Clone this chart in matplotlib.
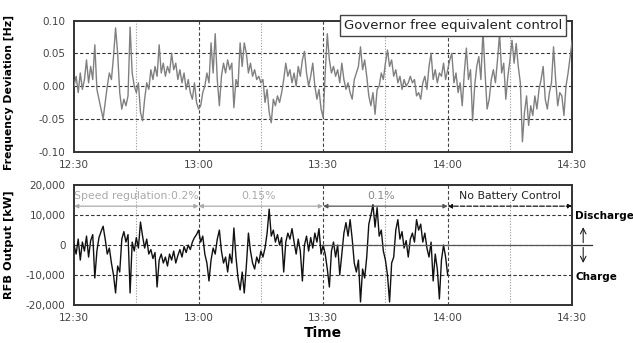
import numpy as np
import matplotlib
matplotlib.use("Agg")
import matplotlib.pyplot as plt

# frequency deviation [Hz], one value every 30 s, per half hour
freq_1230 = [0.00, 0.015, -0.01, 0.02, -0.005, 0.01, 0.04, 0.005, 0.03, 0.01,
             0.063, -0.005, -0.02, -0.035, -0.05, -0.025, 0.00, 0.02, 0.01, 0.045,
             0.089, 0.05, -0.01, -0.035, -0.02, -0.03, -0.015, 0.09, 0.02, 0.00,
             -0.01, 0.005, -0.04, -0.053, -0.02, 0.005, -0.005, 0.025, 0.01, 0.03,
             0.015, 0.063, 0.02, 0.035, 0.015, 0.03, 0.02, 0.05, 0.025, 0.035,
             0.01, 0.025, 0.005, 0.02, -0.005, 0.01, -0.01, -0.02, 0.005, -0.025,
             -0.035]
freq_1300 = [-0.03, -0.01, 0.0, 0.02, 0.005, 0.066, 0.02, 0.08, 0.01, -0.03,
             0.015, 0.035, 0.02, 0.04, 0.025, 0.035, -0.033, 0.01, 0.0, 0.066,
             0.03, 0.066, 0.05, 0.02, 0.035, 0.015, 0.025, 0.01, 0.015, 0.005,
             0.01, -0.025, -0.005, -0.04, -0.056, -0.02, -0.03, -0.015, -0.025, -0.01,
             0.01, 0.035, 0.015, 0.025, 0.005, 0.02, 0.0, 0.03, 0.015, 0.04,
             0.053, 0.02, 0.0, 0.015, 0.035, 0.0, -0.02, -0.005, -0.035, -0.048]
freq_1330 = [0.02, 0.08, 0.04, 0.02, 0.03, 0.015, 0.025, 0.005, 0.035, 0.01,
             -0.005, 0.005, -0.01, -0.02, 0.01, 0.02, 0.03, 0.06, 0.025, 0.04,
             0.015, -0.015, -0.03, -0.01, -0.043, -0.005, 0.0, 0.02, 0.01, 0.035,
             0.055, 0.03, 0.04, 0.015, 0.025, 0.005, 0.015, -0.005, 0.01, 0.0,
             0.005, 0.015, 0.005, 0.01, -0.015, -0.01, -0.02, 0.005, 0.015, -0.005,
             0.03, 0.05, 0.01, 0.025, 0.005, 0.02, 0.015, 0.035, 0.01, 0.025]
freq_1400 = [0.04, 0.05, 0.005, 0.02, -0.01, 0.005, -0.03, 0.02, 0.058, 0.01,
             0.025, -0.053, 0.0, 0.03, 0.045, 0.01, 0.085, 0.02, -0.035, -0.02,
             0.01, 0.025, 0.005, 0.04, 0.08, 0.02, 0.035, -0.02, 0.015, 0.04,
             0.07, 0.035, 0.065, 0.03, 0.005, -0.085, -0.04, -0.015, -0.06, -0.03,
             -0.045, -0.015, -0.035, -0.005, 0.01, 0.03, -0.02, -0.035, -0.01, 0.005,
             0.06, 0.01, -0.03, -0.01, -0.015, -0.045, 0.0, 0.02, 0.045, 0.07]

# RFB output [kW], battery control only until 14:00
rfb_1230 = [0, -3000, 2000, -5000, 1000, -2000, 3000, -4000, 1500, 3500,
            -11000, -2000, 2500, 4500, 6300, 2000, -3000, -1000, -6000, -10000,
            -16000, -7000, -9000, 2000, 4500, 1000, 3500, -16000, 1000, -2000,
            2500, -1000, 7700, 3000, -1000, 2000, -3000, -1500, -4500, -2500,
            -14000, -5000, -3000, -6000, -4000, -7000, -3000, -5000, -2000, -6000,
            -3500, -1500, -4000, -500, -2500, 0, -1500, 1000, 2500, 3500,
            5000]
rfb_1300 = [1000, 3000, -3000, -6000, -12000, -5000, -1000, -3000, 2000, 5000,
            -2000, -6000, -4000, -9000, -3000, -6000, 5700, -4000, -11000, -15000,
            -9000, -16000, -7000, 4000, -2000, -6000, -8000, -4000, -6000, -2000,
            -4000, -1000, 4000, 12000, 3000, 5000, 1000, 3500, 0, 2500,
            -9000, 1000, 4000, 2000, 5500, 1000, -3000, 2000, -2000, -12000,
            0, 3000, -2000, 2500, -1000, 4000, 1000, 5500, -3000, 0]
rfb_1330 = [-3000, -8000, -14000, -2000, 1000, -4000, 0, -10000, -3000, 4000,
            7500, 3000, 8500, 2000, -6000, -9000, -5000, -19000, -8000, -11000,
            -4000, 7000, 10000, 13500, 6000, 12500, 3000, 5000, -2000, -5000,
            -10000, -19000, -6000, -4000, 5000, 8500, 2000, 4500, -1000, 1500,
            -4000, 2000, 4000, 1000, 8500, 5000, 7000, 1000, 4000, -1000,
            -4000, 1000, -12000, -3000, -8000, -18000, -5000, 0, -4000, -10000]

time_labels = ["12:30", "13:00", "13:30", "14:00", "14:30"]
freq_ticks = [0.10, 0.05, 0.00, -0.05, -0.10]
freq_ticklabels = ["0.10", "0.05", "0.00", "-0.05", "-0.10"]
rfb_ticks = [20000, 10000, 0, -10000, -20000]
rfb_ticklabels = ["20,000", "10,000", "0", "-10,000", "-20,000"]
regulation = ["Speed regulation:0.2%", "0.15%", "0.1%", "No Battery Control"]

freq = np.array(freq_1230 + freq_1300 + freq_1330 + freq_1400)
rfb = np.array(rfb_1230 + rfb_1300 + rfb_1330)
t_freq = np.arange(len(freq)) * 0.5   # minutes after 12:30
t_rfb = np.arange(len(rfb)) * 0.5

fig = plt.figure(figsize=(6.33, 3.43), dpi=100)
ax1 = fig.add_axes([0.117, 0.558, 0.787, 0.382])
ax2 = fig.add_axes([0.117, 0.111, 0.787, 0.349])

major = [30, 60, 90]
minor = [15, 45, 75, 105]


def style(ax, ticks, ticklabels, lim):
    ax.set_xlim(0, 120)
    ax.set_ylim(lim)
    ax.set_xticks([0, 30, 60, 90, 120])
    ax.set_xticklabels(time_labels)
    ax.set_yticks(ticks)
    ax.set_yticklabels(ticklabels)
    ax.tick_params(length=0, labelsize=7.5, labelcolor="#444444", pad=6)
    for s in ax.spines.values():
        s.set_linewidth(1.4)
        s.set_color("#333333")
    for y in ticks[1:-1]:
        ax.axhline(y, color="#333333", lw=0.8, ls=(0, (3, 2)), zorder=1)
    for x in major:
        ax.axvline(x, color="#444444", lw=0.8, ls=(0, (3, 2)), zorder=1)
    for x in minor:
        ax.axvline(x, color="#999999", lw=0.8, ls=(0, (1, 1.5)), zorder=1)


style(ax1, freq_ticks, freq_ticklabels, (-0.10, 0.10))
style(ax2, rfb_ticks, rfb_ticklabels, (-20000, 20000))

ax1.plot(t_freq, freq, color="#808080", lw=1.0, zorder=3)
ax1.set_ylabel("Frequency Deviation [Hz]", fontsize=7.8, fontweight="bold")
ax1.yaxis.set_label_coords(-0.12, 0.45)
ax1.text(0.761, 0.96, "Governor free equivalent control", transform=ax1.transAxes,
         ha="center", va="center", fontsize=9.5, color="#222222", zorder=5,
         bbox=dict(boxstyle="square,pad=0.3", fc="white", ec="#444444", lw=1))

ax2.plot(t_rfb, rfb, color="#111111", lw=1.0, zorder=3)
ax2.plot([60, 120], [0, 0], color="#555555", lw=0.9, zorder=3)
ax2.plot([1.0, 1.04], [0.5, 0.5], transform=ax2.transAxes, color="#333333",
         lw=0.9, clip_on=False)
ax2.set_ylabel("RFB Output [kW]", fontsize=8.2, fontweight="bold")
ax2.yaxis.set_label_coords(-0.12, 0.5)
ax2.set_xlabel("Time", fontsize=10, fontweight="bold", labelpad=2)

# regulation ranges
arrow_cols = ["#aaaaaa", "#aaaaaa", "#555555", "#111111"]
text_cols = ["#aaaaaa", "#aaaaaa", "#888888", "#222222"]
text_x = [15, 44.5, 74, 105]
for k in range(4):
    ax2.annotate("", xy=(30 * k, 13000), xytext=(30 * (k + 1), 13000),
                 arrowprops=dict(arrowstyle="<|-|>", color=arrow_cols[k], lw=0.9,
                                 ls="--" if k == 3 else "-", mutation_scale=6,
                                 shrinkA=0, shrinkB=0), zorder=4)
    ax2.text(text_x[k], 16300, regulation[k], ha="center", va="center",
             fontsize=7.8, color=text_cols[k], zorder=5,
             bbox=dict(fc="white", ec="none", pad=0.5) if k == 3 else None)

ax2.text(1.006, 0.743, "Discharge", transform=ax2.transAxes, fontsize=7.5,
         fontweight="bold", ha="left", va="center")
ax2.text(1.006, 0.234, "Charge", transform=ax2.transAxes, fontsize=7.5,
         fontweight="bold", ha="left", va="center")
ax2.annotate("", xy=(1.022, 0.65), xytext=(1.022, 0.52), xycoords="axes fraction",
             arrowprops=dict(arrowstyle="->", lw=0.8, color="#222222",
                             shrinkA=0, shrinkB=0))
ax2.annotate("", xy=(1.022, 0.35), xytext=(1.022, 0.48), xycoords="axes fraction",
             arrowprops=dict(arrowstyle="->", lw=0.8, color="#222222",
                             shrinkA=0, shrinkB=0))

fig.savefig("out.png", dpi=100)
